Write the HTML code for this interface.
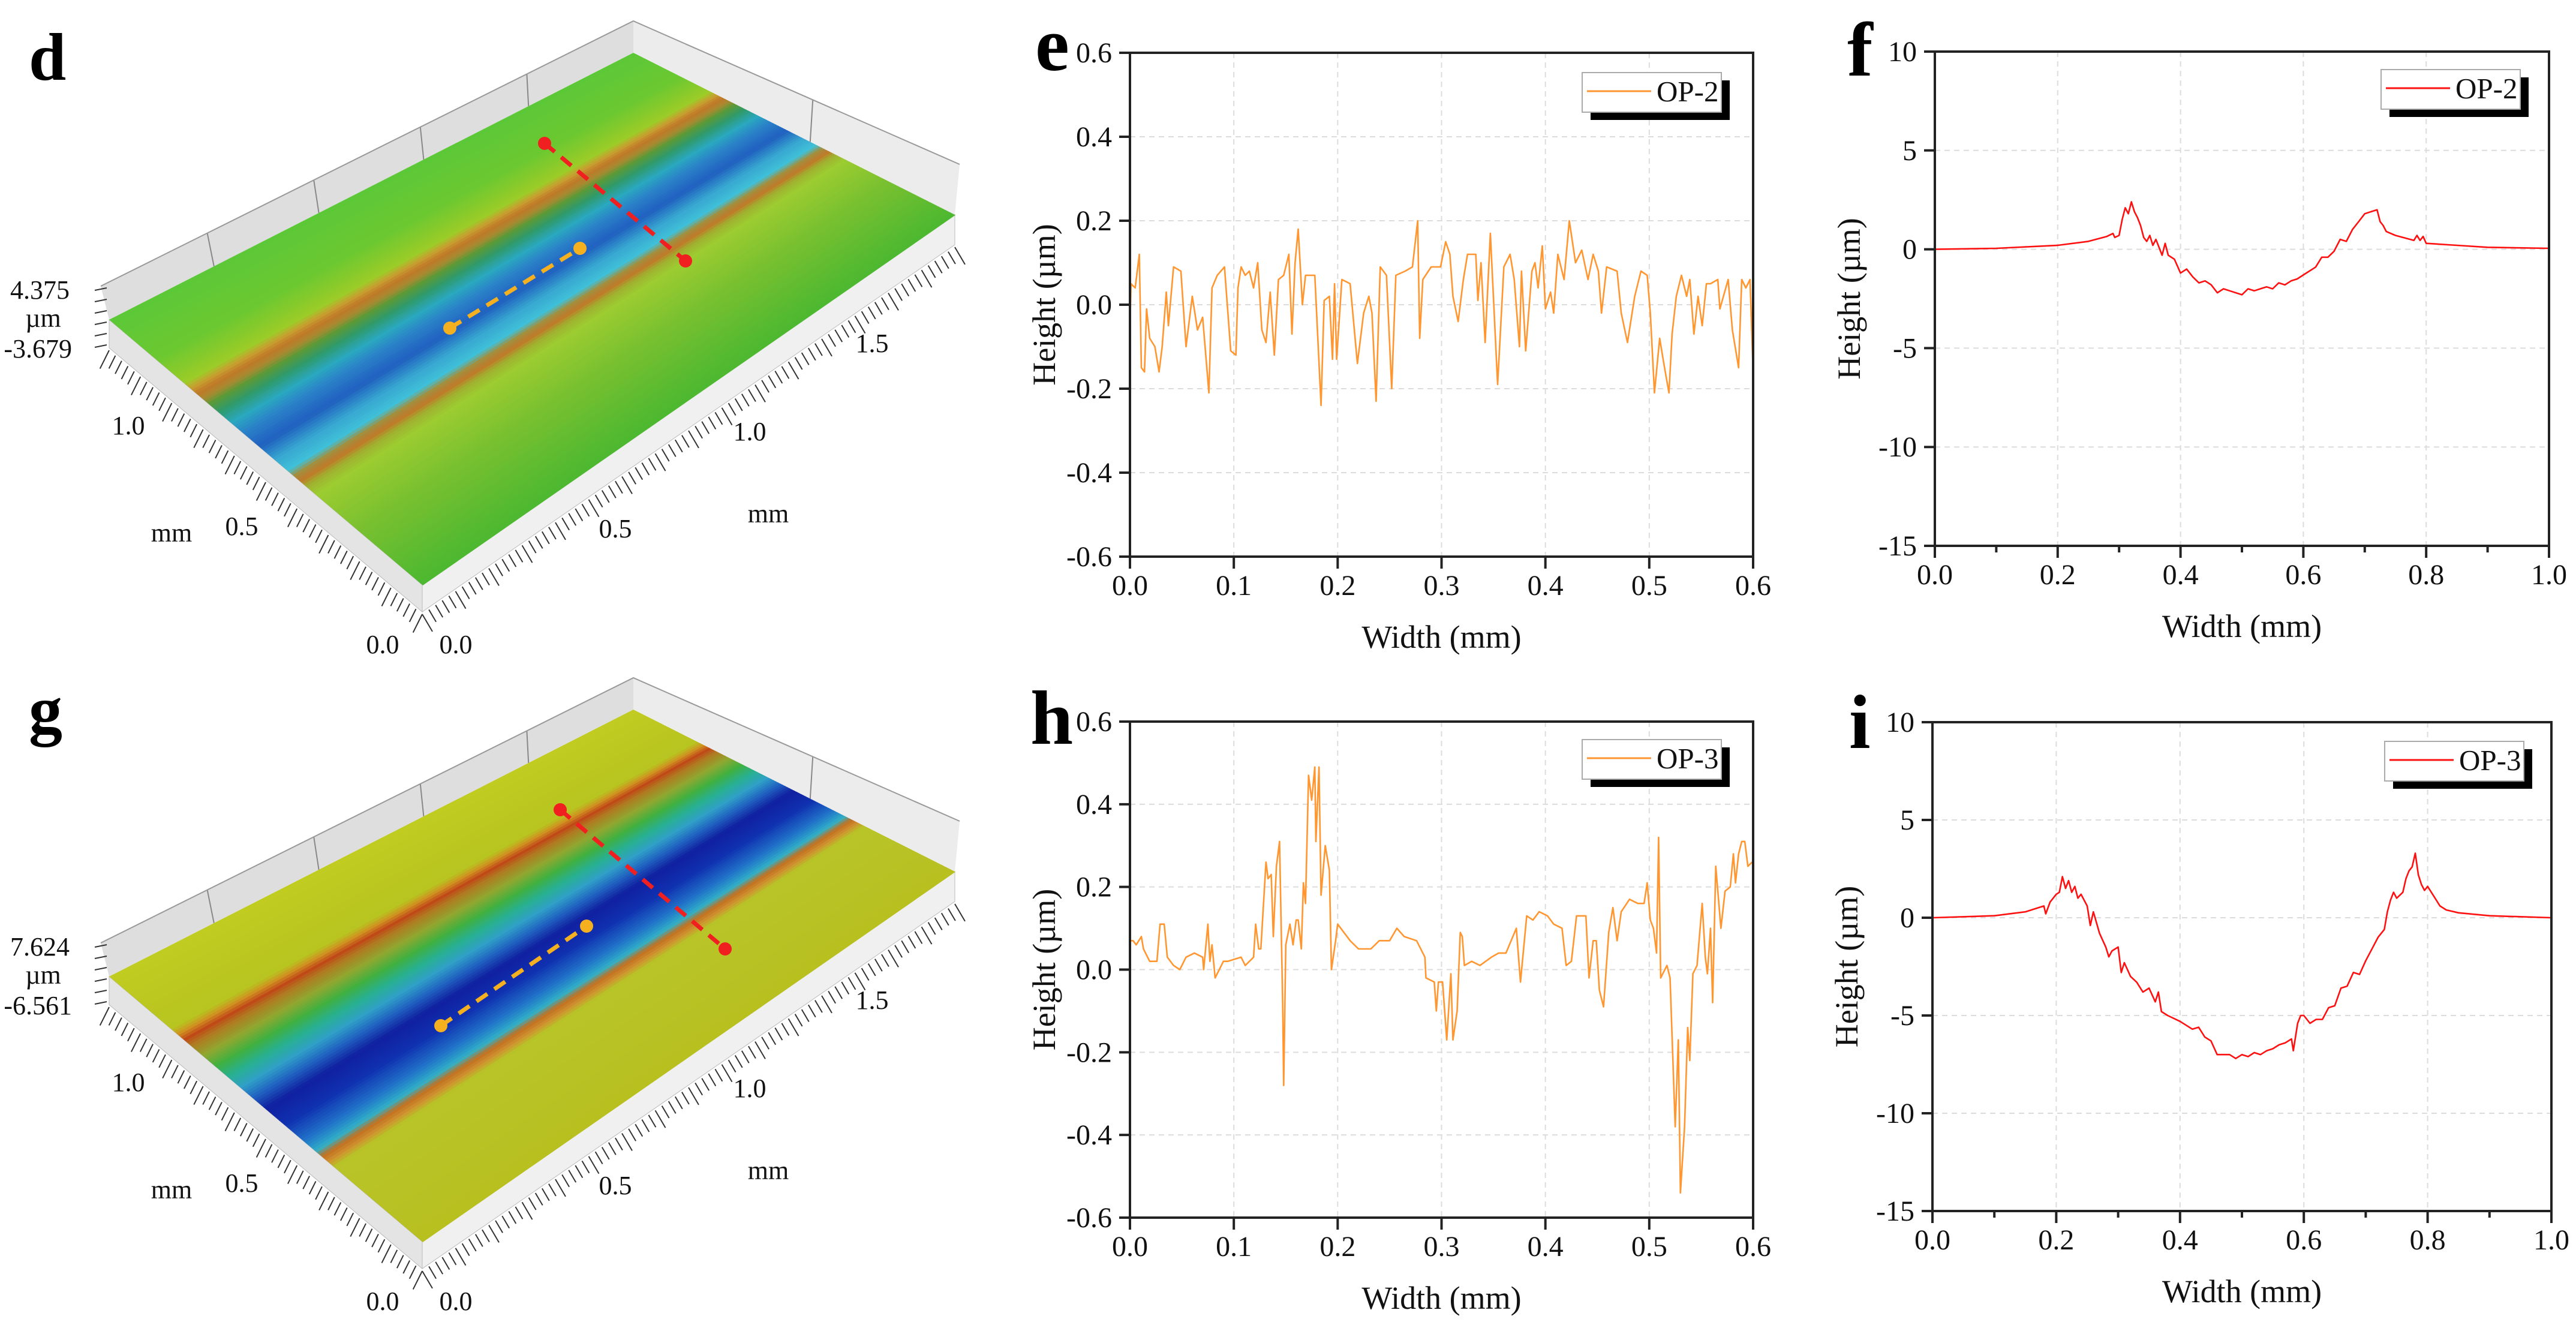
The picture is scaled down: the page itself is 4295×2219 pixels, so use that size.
<!DOCTYPE html>
<html><head><meta charset="utf-8">
<style>
html,body{margin:0;padding:0;background:#fff;}
svg{display:block;}
svg text{font-family:"Liberation Serif","DejaVu Serif",serif;}
</style></head>
<body>
<svg id="fig" width="4295" height="2219" viewBox="0 0 4295 2219" xmlns="http://www.w3.org/2000/svg" font-family="Liberation Serif, DejaVu Serif, serif">
<rect x="0" y="0" width="4295" height="2219" fill="#fff"/>
<g id="p3d"></g>
<g id="charts"></g>
</svg>
<script>
// ---------- chart data ----------
const eX=[0,.001,.005,.009,.011,.014,.016,.019,.024,.028,.031,.035,.037,.042,.049,.054,.060,.065,.070,.076,.079,.084,.091,.097,.102,.104,.107,.111,.115,.119,.123,.127,.131,.135,.139,.143,.148,.153,.156,.159,.162,.166,.169,.178,.184,.187,.192,.195,.197,.199,.204,.212,.219,.225,.230,.233,.237,.241,.247,.252,.256,.265,.272,.277,.279,.282,.290,.299,.304,.308,.311,.316,.321,.325,.333,.335,.338,.342,.347,.354,.360,.366,.370,.375,.377,.381,.387,.390,.393,.397,.400,.405,.408,.412,.418,.423,.429,.435,.441,.446,.451,.454,.459,.469,.473,.479,.486,.492,.498,.501,.505,.510,.514,.519,.522,.526,.531,.536,.539,.543,.547,.551,.555,.559,.566,.568,.576,.580,.586,.589,.593,.597,.600];
const eY=[-.05,.05,.04,.12,-.15,-.16,-.01,-.08,-.1,-.16,-.1,.03,-.05,.09,.08,-.1,.02,-.06,-.03,-.21,.04,.07,.09,-.11,-.12,.04,.09,.07,.08,.04,.1,-.06,-.09,.03,-.12,.06,.07,.12,-.07,.1,.18,0,.07,.07,-.24,.01,.02,-.13,.05,-.13,.06,.05,-.14,-.02,.02,-.02,-.23,.09,.07,-.2,.07,.08,.09,.2,-.08,.06,.09,.09,.15,.12,.02,-.04,.06,.12,.12,.01,.1,-.09,.17,-.19,.09,.12,.06,-.1,.08,-.11,.08,.1,.04,.14,-.01,.03,-.02,.12,.06,.2,.1,.13,.06,.12,.08,-.02,.09,.08,-.02,-.09,.02,.08,.07,-.02,-.21,-.08,-.14,-.21,-.07,.02,.07,.02,.06,-.07,.02,-.05,.05,.05,.06,-.01,.06,-.06,-.15,.06,.04,.06,-.16];
const fX=[0,.1,.2,.25,.28,.29,.293,.30,.305,.31,.315,.32,.325,.33,.335,.34,.345,.35,.355,.36,.37,.375,.38,.39,.40,.41,.42,.43,.44,.45,.46,.47,.48,.49,.50,.51,.52,.53,.54,.55,.56,.57,.58,.59,.60,.62,.63,.64,.65,.66,.67,.68,.69,.70,.71,.72,.725,.73,.735,.75,.78,.785,.79,.795,.80,.85,.90,1.0];
const fY=[0,.05,.2,.4,.65,.8,.6,.7,1.5,2.1,1.8,2.4,1.9,1.6,1.2,.6,.4,.7,.2,.5,-.3,.3,-.3,-.5,-1.2,-1.0,-1.4,-1.7,-1.6,-1.8,-2.2,-2.0,-2.1,-2.2,-2.3,-2.0,-2.1,-2.0,-1.9,-2.0,-1.7,-1.8,-1.6,-1.5,-1.3,-.9,-.4,-.4,-.1,.5,.4,1.0,1.4,1.8,1.9,2.0,1.4,1.2,.9,.7,.45,.7,.45,.65,.3,.2,.1,.05];
const hX=[0,.003,.006,.011,.013,.019,.026,.029,.033,.036,.042,.048,.054,.062,.070,.071,.075,.077,.079,.082,.090,.094,.107,.111,.119,.121,.124,.126,.131,.133,.136,.138,.141,.144,.147,.148,.150,.154,.157,.160,.162,.165,.167,.169,.172,.175,.178,.179,.182,.184,.188,.192,.194,.198,.200,.212,.220,.232,.240,.250,.257,.264,.276,.284,.285,.293,.295,.297,.301,.305,.309,.311,.315,.318,.320,.322,.329,.337,.348,.355,.362,.372,.376,.382,.388,.394,.402,.408,.416,.420,.425,.430,.439,.442,.446,.449,.452,.456,.461,.465,.469,.473,.481,.489,.495,.498,.501,.504,.507,.509,.511,.517,.520,.525,.528,.530,.534,.537,.539,.542,.546,.551,.554,.556,.559,.561,.564,.569,.573,.578,.581,.583,.586,.589,.592,.595,.599];
const hY=[.07,.07,.06,.08,.05,.02,.02,.11,.11,.03,.01,0,.03,.04,.03,0,.11,.02,.06,-.02,.02,.02,.03,.01,.03,.11,.05,.05,.26,.22,.23,.08,.25,.31,-.08,-.28,.06,.11,.06,.12,.12,.05,.21,.16,.47,.41,.49,.31,.49,.18,.30,.24,0,.07,.11,.07,.05,.05,.07,.07,.10,.08,.07,.03,-.02,-.03,-.10,-.03,-.03,-.17,-.01,-.17,-.10,.09,.08,.01,.02,.01,.03,.04,.04,.10,-.03,.13,.12,.14,.13,.11,.10,.01,.02,.13,.13,-.02,.07,.07,-.05,-.09,.09,.15,.07,.14,.17,.16,.16,.21,.12,.10,.04,.32,-.02,.01,-.02,-.38,-.17,-.54,-.38,-.14,-.22,-.01,.01,.16,.03,-.01,.10,-.08,.25,.10,.19,.20,.28,.21,.28,.31,.31,.25,.26];
const iX=[0,.1,.15,.18,.183,.19,.2,.205,.21,.215,.22,.225,.23,.235,.24,.25,.255,.26,.27,.28,.285,.29,.30,.305,.31,.32,.33,.34,.35,.36,.365,.37,.38,.40,.42,.43,.44,.45,.46,.48,.49,.50,.51,.52,.53,.54,.55,.56,.57,.58,.583,.59,.595,.60,.61,.62,.63,.64,.65,.66,.67,.68,.69,.70,.71,.72,.73,.735,.74,.745,.75,.76,.765,.77,.775,.78,.785,.79,.795,.80,.81,.82,.83,.85,.9,1.0];
const iY=[0,.1,.3,.6,.2,.8,1.2,1.3,2.1,1.5,1.9,1.3,1.6,1.0,1.2,.6,-.4,.3,-.8,-1.5,-2.0,-1.7,-1.5,-2.8,-2.3,-3.0,-3.3,-3.8,-3.6,-4.3,-3.8,-4.8,-5.0,-5.3,-5.7,-5.6,-6.1,-6.3,-7.0,-7.0,-7.2,-7.0,-7.1,-6.9,-7.0,-6.8,-6.7,-6.5,-6.4,-6.2,-6.8,-5.4,-5.0,-5.0,-5.4,-5.2,-5.2,-4.6,-4.5,-3.6,-3.5,-2.8,-2.9,-2.2,-1.6,-1.0,-.6,.3,.9,1.3,1.0,1.3,2.0,2.4,2.6,3.3,2.2,1.7,1.4,1.6,1.1,.6,.4,.25,.1,0];
const eXTicks=[0,0.1,0.2,0.3,0.4,0.5,0.6];
const eXLabels=["0.0","0.1","0.2","0.3","0.4","0.5","0.6"];
const eYTicks=[-0.6,-0.4,-0.2,0,0.2,0.4,0.6];
const eYLabels=["-0.6","-0.4","-0.2","0.0","0.2","0.4","0.6"];
const fXTicks=[0,0.2,0.4,0.6,0.8,1.0];
const fXLabels=["0.0","0.2","0.4","0.6","0.8","1.0"];
const fXMinor=[0.1,0.3,0.5,0.7,0.9];
const fYTicks=[-15,-10,-5,0,5,10];
const fYLabels=["-15","-10","-5","0","5","10"];

const NS="http://www.w3.org/2000/svg";
const FF='Liberation Serif, DejaVu Serif, serif';
function mk(parent,tag,attrs,text){const e=document.createElementNS(NS,tag);for(const k in attrs)e.setAttribute(k,attrs[k]);if(tag==='text')e.setAttribute('font-family',FF);if(text!==undefined)e.textContent=text;parent.appendChild(e);return e;}

function chart(c){
  const root=document.getElementById('charts');
  const g=mk(root,'g',{});
  
  
  const sx=v=>c.L+(v-c.xmin)/(c.xmax-c.xmin)*(c.R-c.L);
  const sy=v=>c.B-(v-c.ymin)/(c.ymax-c.ymin)*(c.B-c.T);
  c.xt.forEach(v=>{if(v>c.xmin&&v<c.xmax){const l=mk(g,'line',{x1:sx(v),x2:sx(v),y1:c.T,y2:c.B,stroke:'#dcdcdc','stroke-width':2,'stroke-dasharray':'9,7'});}});
  c.yt.forEach(v=>{if(v>c.ymin&&v<c.ymax){const l=mk(g,'line',{x1:c.L,x2:c.R,y1:sy(v),y2:sy(v),stroke:'#dcdcdc','stroke-width':2,'stroke-dasharray':'9,7'});}});
  let d='';c.xs.forEach((x,i)=>{d+=(i?'L':'M')+sx(x).toFixed(1)+','+sy(c.ys[i]).toFixed(1);});
  const p=mk(g,'path',{d:d,fill:'none',stroke:c.color,'stroke-width':2.6,'stroke-linejoin':'round'});
  
  
  const fr=mk(g,'rect',{x:c.L,y:c.T,width:c.R-c.L,height:c.B-c.T,fill:'none',stroke:'#222','stroke-width':4});
  
  
  c.xt.forEach((v,i)=>{mk(g,'line',{x1:sx(v),x2:sx(v),y1:c.B,y2:c.B+20,stroke:'#222','stroke-width':4});
    const t=mk(g,'text',{x:sx(v),y:c.B+64,'font-size':48,'text-anchor':'middle',fill:'#111'},c.xl[i]);
    });
  (c.xm||[]).forEach(v=>{mk(g,'line',{x1:sx(v),x2:sx(v),y1:c.B,y2:c.B+11,stroke:'#222','stroke-width':4});});
  c.yt.forEach((v,i)=>{mk(g,'line',{x1:c.L-18,x2:c.L,y1:sy(v),y2:sy(v),stroke:'#222','stroke-width':4});
    const t=mk(g,'text',{x:c.L-30,y:sy(v)+16,'font-size':48,'text-anchor':'end',fill:'#111'},c.yl[i]);
    });
  const xt=mk(g,'text',{x:(c.L+c.R)/2,y:c.B+152,'font-size':54,'text-anchor':'middle',fill:'#111'},'Width (mm)');
  
  const cy=(c.T+c.B)/2, cx=c.L-125;
  const yt=mk(g,'text',{x:cx,y:cy,'font-size':54,'text-anchor':'middle',fill:'#111',transform:'rotate(-90 '+cx+' '+cy+')'},'Height (µm)');
  
  const lg=mk(g,'g',{});
  
  
  mk(lg,'rect',{x:c.lx+14,y:c.ly+13,width:232,height:66,fill:'#000'});
  mk(lg,'rect',{x:c.lx,y:c.ly,width:232,height:66,fill:'#fff',stroke:'#aaa','stroke-width':2});
  mk(lg,'line',{x1:c.lx+8,x2:c.lx+115,y1:c.ly+31,y2:c.ly+31,stroke:c.color,'stroke-width':3});
  const lt=mk(lg,'text',{x:c.lx+124,y:c.ly+48,'font-size':49,fill:'#111'},c.series);
  
  const pl=mk(g,'text',{x:c.lx0,y:c.ly0,'font-size':128,'font-weight':'bold',fill:'#000'},c.letter);
  
}
chart({name:'chart-e',series:'OP-2',color:'#ff9630',L:1884,R:2923,T:88,B:928,xmin:0,xmax:0.6,ymin:-0.6,ymax:0.6,xt:eXTicks,xl:eXLabels,yt:eYTicks,yl:eYLabels,xs:eX,ys:eY,lx:2638,ly:121,letter:'e',lx0:1726,ly0:117});
chart({name:'chart-f',series:'OP-2',color:'#ff1010',L:3226,R:4250,T:86,B:910,xmin:0,xmax:1,ymin:-15,ymax:10,xt:fXTicks,xl:fXLabels,xm:fXMinor,yt:fYTicks,yl:fYLabels,xs:fX,ys:fY,lx:3970,ly:116,letter:'f',lx0:3080,ly0:126});
chart({name:'chart-h',series:'OP-3',color:'#ff9630',L:1884,R:2923,T:1203,B:2030,xmin:0,xmax:0.6,ymin:-0.6,ymax:0.6,xt:eXTicks,xl:eXLabels,yt:eYTicks,yl:eYLabels,xs:hX,ys:hY,lx:2638,ly:1233,letter:'h',lx0:1718,ly0:1240});
chart({name:'chart-i',series:'OP-3',color:'#ff1010',L:3222,R:4254,T:1204,B:2019,xmin:0,xmax:1,ymin:-15,ymax:10,xt:fXTicks,xl:fXLabels,xm:fXMinor,yt:fYTicks,yl:fYLabels,xs:iX,ys:iY,lx:3976,ly:1236,letter:'i',lx0:3083,ly0:1247});

function hex(c){return [parseInt(c.substr(1,2),16),parseInt(c.substr(3,2),16),parseInt(c.substr(5,2),16)];}
function colAt(stops,u){for(let i=1;i<stops.length;i++){if(u<=stops[i][0]){const a=stops[i-1],b=stops[i];const t=(u-a[0])/(b[0]-a[0]);const A=hex(a[1]),B=hex(b[1]);return 'rgb('+A.map((v,k)=>Math.round(v+(B[k]-v)*t)).join(',')+')';}}return stops[stops.length-1][1];}
function lerp(a,b,t){return [a[0]+(b[0]-a[0])*t,a[1]+(b[1]-a[1])*t];}
function panel3d(o){
  const root=document.getElementById('p3d');
  const g=mk(root,'g',{transform:'translate(0,'+o.dy+')'});
  
  
  const L=[182,533],B=[1056,88],R=[1592,358],F=[704,975];
  const Lb=[182,580],Fb=[704,1020],Rb=[1592,408];
  const Lt=[168,477],Bt=[1056,35],Rt=[1600,274];
  const pts=a=>a.map(p=>p[0]+','+p[1]).join(' ');
  mk(g,'polygon',{points:pts([Lt,Bt,B,L]),fill:'#dedede'});
  mk(g,'polygon',{points:pts([Bt,Rt,R,B]),fill:'#ececec'});
  [0.2,0.4,0.6,0.8].forEach(t=>{const a=lerp(Lt,Bt,t),b=lerp(L,B,t);mk(g,'line',{x1:a[0],y1:a[1],x2:b[0],y2:b[1],stroke:'#888','stroke-width':2});});
  [0.55].forEach(t=>{const a=lerp(Bt,Rt,t),b=lerp(B,R,t);mk(g,'line',{x1:a[0],y1:a[1],x2:b[0],y2:b[1],stroke:'#888','stroke-width':2});});
  mk(g,'polyline',{points:pts([Lt,Bt,Rt]),fill:'none',stroke:'#999','stroke-width':2});
  mk(g,'polygon',{points:pts([L,F,Fb,Lb]),fill:'#e4e4e4',stroke:'#bbb','stroke-width':1});
  mk(g,'polygon',{points:pts([F,R,Rb,Fb]),fill:'#f0f0f0',stroke:'#bbb','stroke-width':1});
  const N=140;
  for(let k=0;k<N;k++){const u0=k/N,u1=(k+1)/N+0.002;
    const p1=lerp(L,F,u0),p2=lerp(L,F,u1),p3=lerp(B,R,u1),p4=lerp(B,R,u0);
    mk(g,'polygon',{points:pts([p1,p2,p3,p4]),fill:colAt(o.stops,(u0+u1)/2)});}
  for(let k=0;k<=50;k++){const p=lerp(Lb,Fb,k/50);const len=(k%5===0)?34:24;mk(g,'line',{x1:p[0],y1:p[1]+4,x2:p[0]-len*0.45,y2:p[1]+4+len*0.9,stroke:'#333','stroke-width':2});}
  for(let k=0;k<=80;k++){const p=lerp(Fb,Rb,k/80);const len=(k%5===0)?34:24;mk(g,'line',{x1:p[0],y1:p[1]+4,x2:p[0]+len*0.5,y2:p[1]+4+len*0.85,stroke:'#333','stroke-width':2});}
  [0,1,2,3,4,5].forEach(k=>{const y=484+k*19;mk(g,'line',{x1:158,y1:y,x2:178,y2:y-4,stroke:'#333','stroke-width':2});});
  const rl=mk(g,'line',{x1:o.red[0],y1:o.red[1],x2:o.red[2],y2:o.red[3],stroke:'#f02020','stroke-width':7,'stroke-dasharray':'22,14'});
  
  mk(g,'circle',{cx:o.red[0],cy:o.red[1],r:11,fill:'#f02020'});
  mk(g,'circle',{cx:o.red[2],cy:o.red[3],r:11,fill:'#f02020'});
  const yl=mk(g,'line',{x1:o.yel[0],y1:o.yel[1],x2:o.yel[2],y2:o.yel[3],stroke:'#f5b020','stroke-width':7,'stroke-dasharray':'22,14'});
  
  mk(g,'circle',{cx:o.yel[0],cy:o.yel[1],r:11,fill:'#f5b020'});
  mk(g,'circle',{cx:o.yel[2],cy:o.yel[3],r:11,fill:'#f5b020'});
  const T=(x,y,s,name,anchor)=>{const t=mk(g,'text',{x:x,y:y,'font-size':44,'text-anchor':anchor||'middle',fill:'#111'},s);};
  T(116,498,o.zmax,'z-max-label','end');
  T(72,545,'µm','z-unit-label');
  T(120,596,o.zmin,'z-min-label','end');
  T(214,724,'1.0','y-tick-label'); T(403,892,'0.5','y-tick-label'); T(286,903,'mm','y-axis-title');
  T(638,1089,'0.0','y-tick-label'); T(760,1089,'0.0','x-tick-label');
  T(1026,896,'0.5','x-tick-label'); T(1250,734,'1.0','x-tick-label'); T(1454,587,'1.5','x-tick-label'); T(1281,871,'mm','x-axis-title');
  const pl=mk(g,'text',{x:48,y:o.ly,'font-size':112,'font-weight':'bold',fill:'#000'},o.letter);
  
}
panel3d({name:'surface-3d-d',dy:0,letter:'d',ly:133,zmax:'4.375',zmin:'-3.679',
  stops:[[0,'#5cc838'],[0.15,'#6cc830'],[0.24,'#9ccc28'],[0.26,'#c8a030'],[0.28,'#c07828'],[0.30,'#a88a30'],[0.32,'#5a9a38'],[0.35,'#2f9a6a'],[0.39,'#2aa8c0'],[0.43,'#2a80c8'],[0.48,'#2060c0'],[0.53,'#38a8d0'],[0.57,'#40c0d8'],[0.59,'#a09040'],[0.61,'#c07828'],[0.63,'#a0b030'],[0.66,'#9ccc30'],[0.8,'#78c030'],[1,'#4cb830']],
  red:[908,239,1143,435],yel:[750,547,967,414]});
panel3d({name:'surface-3d-g',dy:1095,letter:'g',ly:126,zmax:'7.624',zmin:'-6.561',
  stops:[[0,'#c0cc20'],[0.2,'#b8c420'],[0.22,'#d09020'],[0.24,'#c04818'],[0.26,'#b07820'],[0.30,'#90a830'],[0.34,'#40b040'],[0.38,'#28b090'],[0.42,'#30a0c8'],[0.46,'#2060c0'],[0.5,'#1020a0'],[0.56,'#1030b0'],[0.62,'#2070c8'],[0.66,'#30b0c8'],[0.68,'#c07020'],[0.70,'#d09030'],[0.72,'#b8c428'],[1,'#b8c020']],
  red:[934,255,1209,487],yel:[735,615,978,449]});
</script>
</body></html>
